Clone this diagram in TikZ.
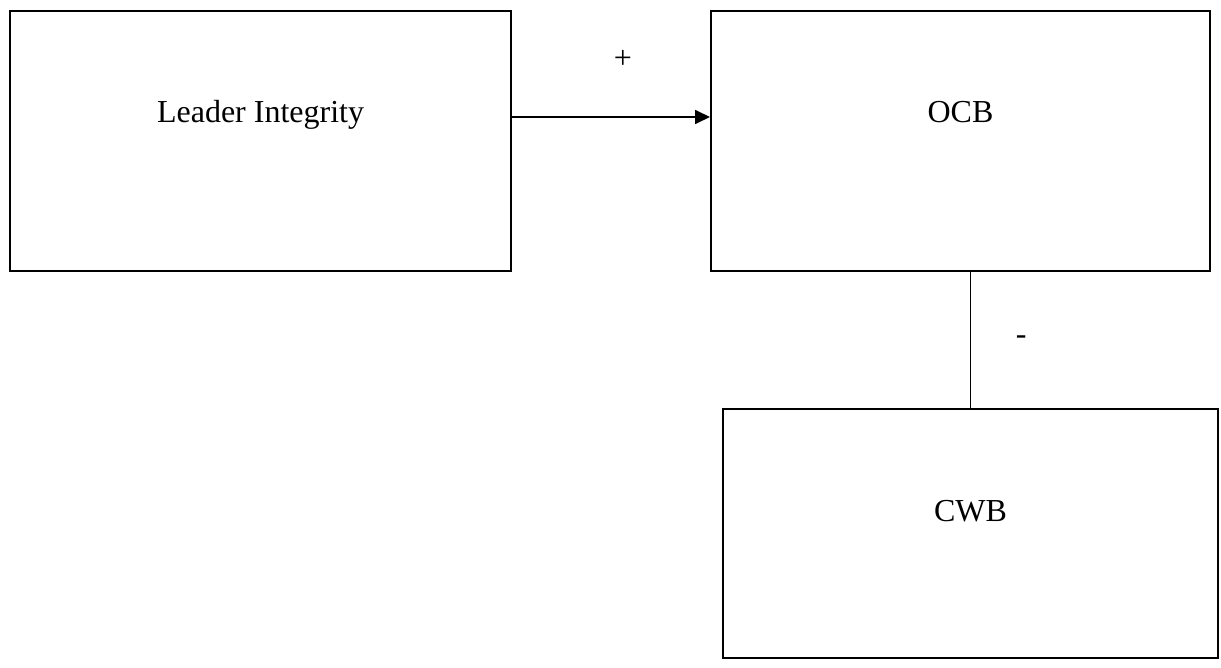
\documentclass[tikz,border=0pt]{standalone}
\usepackage{fontspec}
\setmainfont{Liberation Serif}
\usetikzlibrary{arrows.meta}

\begin{document}
\begin{tikzpicture}[
      x=0.375pt, y=-0.375pt,
      every node/.style={inner sep=0pt,font=\fontsize{12}{14}\selectfont},
      varbox/.style={draw, line width=0.75pt, anchor=north west, text height=42pt},
      link/.style={line width=0.75pt, -{Triangle[length=5.6pt,width=5.2pt]}}
    ]
      \useasboundingbox (0,0) rectangle (1221,667);
      \node[varbox, minimum width=187.9pt, text depth=55.5pt] (lead) at (9,10) {Leader Integrity};
      \node[varbox, minimum width=187.1pt, text depth=55.5pt] (ocb) at (710,10) {OCB};
      \node[varbox, minimum width=185.6pt, text depth=51.4pt] (cwb) at (722,408) {CWB};
      \draw[link] ([yshift=2.25pt]lead.base east) -- ([yshift=2.25pt]ocb.base west)
        node[pos=0.56, yshift=21.5pt] (plus) {+};
      \draw[line width=0.4pt] (cwb.north |- ocb.south) -- (cwb.north)
        node[midway, xshift=19pt] (minus) {-};
    \end{tikzpicture}
\end{document}
